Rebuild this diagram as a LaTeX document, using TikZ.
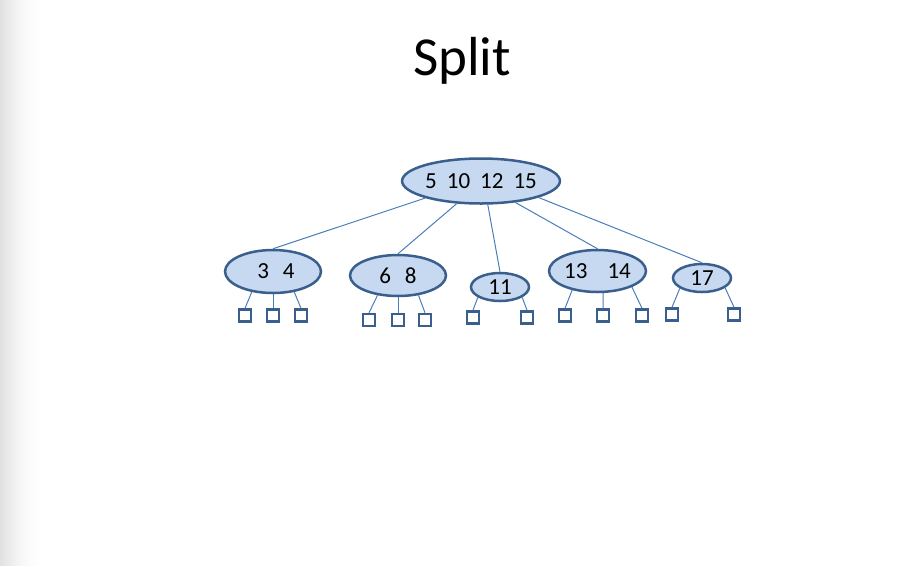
\documentclass[tikz,border=0pt]{standalone}
\usepackage{fontspec}
\setmainfont{Carlito}
\usepackage{tikz}
\usetikzlibrary{shapes.geometric}

\definecolor{keyfill}{HTML}{C6D9F1}
\definecolor{keyline}{HTML}{3A5F8D}
\definecolor{linkblue}{HTML}{4A7EBB}

\tikzset{
  key/.style={ellipse, draw=keyline, fill=keyfill, line width=2.5pt, inner sep=0pt, font=\fontsize{23}{27}\selectfont},
  leaf/.style={rectangle, draw=keyline, fill=white, line width=2.5pt, minimum size=12pt, inner sep=0pt},
  link/.style={draw=linkblue, line width=1pt}
}

\begin{document}
\begin{tikzpicture}[x=1pt,y=-1pt]

\useasboundingbox (0,0) rectangle (924,566);
%shadow
\foreach \i [evaluate=\i as \g using {12*(1-\i/45)^2}] in {0,...,44}
  \fill[black!\g] (\i,0) rectangle (\i+1.2,566);

%title
\node (title) at (462,61) {\fontsize{55}{66}\selectfont Split};

%root
\node[key, minimum width=153pt, minimum height=45pt] (root) at (481,181) {5\hspace{10pt}10\hspace{10pt}12\hspace{10pt}15};

%children
\node[key, minimum width=96pt, minimum height=43pt] (k34) at (273,271.5) {\hspace{6pt}3\hspace{14pt}4};
\node[key, minimum width=96pt, minimum height=41pt] (k68) at (398,275.5) {6\hspace{14pt}8};
\node[key, minimum width=58pt, minimum height=28pt] (k11) at (500,287) {11};
\node[key, minimum width=97pt, minimum height=42pt] (k1314) at (597.5,271) {13\hspace{20pt}14};
\node[key, minimum width=58pt, minimum height=28pt] (k17) at (702,278) {17};

\draw[link] (root.-163) -- (k34.north);
\draw[link] (root.-137) -- (k68.north);
\draw[link] (root.-74) -- (k11.north);
\draw[link] (root.-32) -- (k1314.north);
\draw[link] (root.-16) -- (k17.north);

%leaves
\node[leaf] (l1) at (245,315.5) {};
\node[leaf] (l2) at (273,315.5) {};
\node[leaf] (l3) at (301,315.5) {};
\node[leaf] (l4) at (369,320) {};
\node[leaf] (l5) at (398,320) {};
\node[leaf] (l6) at (425,320) {};
\node[leaf] (l7) at (473,317.5) {};
\node[leaf] (l8) at (527,317.5) {};
\node[leaf] (l9) at (565,315.5) {};
\node[leaf] (l10) at (603,315.5) {};
\node[leaf] (l11) at (642,315.5) {};
\node[leaf] (l12) at (672,314.5) {};
\node[leaf] (l13) at (734,314.5) {};

\draw[link] (k34.-136) -- (l1.north);
\draw[link] (k34.-90) -- (l2.north);
\draw[link] (k34.-44) -- (l3.north);
\draw[link] (k68.-136) -- (l4.north);
\draw[link] (k68.-90) -- (l5.north);
\draw[link] (k68.-44) -- (l6.north);
\draw[link] (k11.-155) -- (l7.north);
\draw[link] (k11.-25) -- (l8.north);
\draw[link] (k1314.-143) -- (l9.north);
\draw[link] (k1314.-76) -- (l10.north);
\draw[link] (k1314.-25) -- (l11.north);
\draw[link] (k17.-155) -- (l12.north);
\draw[link] (k17.-23) -- (l13.north);

\end{tikzpicture}
\end{document}
